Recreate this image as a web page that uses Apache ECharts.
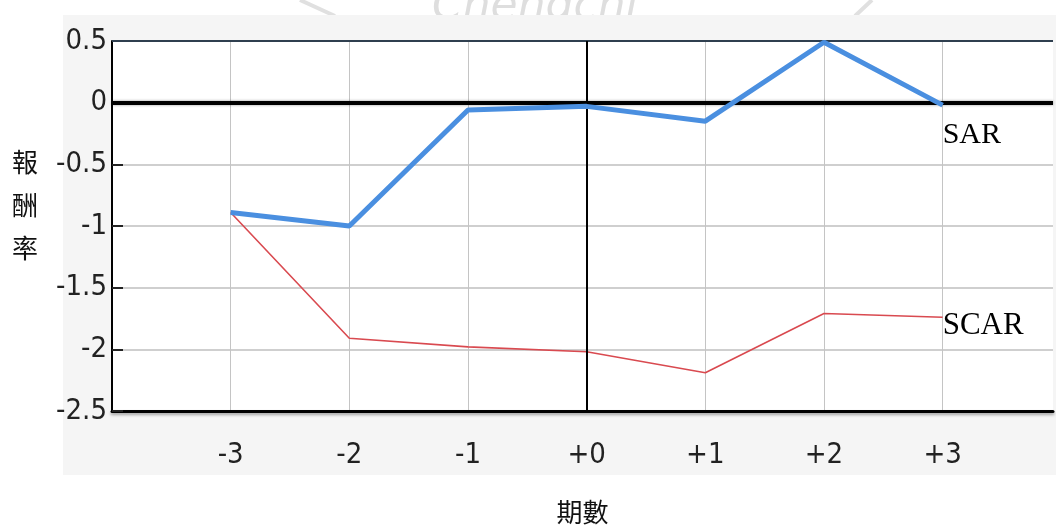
<!DOCTYPE html>
<html>
<head>
<meta charset="utf-8">
<script src="https://cdn.jsdelivr.net/npm/echarts@6/dist/echarts.min.js"></script>
<style>
html,body{margin:0;padding:0;background:#fff;}
#chart{width:1056px;height:531px;}
</style>
</head>
<body>
<div id="chart"></div>
<script>
// ---- data ----
var periods = [-3, -2, -1, 0, 1, 2, 3];
var periodLabels = ['-3', '-2', '-1', '+0', '+1', '+2', '+3'];
var sarValues = [-0.89, -1.00, -0.06, -0.03, -0.15, 0.49, -0.02];
var scarValues = [-0.89, -1.91, -1.98, -2.02, -2.19, -1.71, -1.74];
var seriesNames = ['SAR', 'SCAR'];
var yAxisTitle = '報\n酬\n率';
var xAxisTitle = '期數';
var watermarkText = 'Chengchi';

function pairs(xs, ys) {
  return xs.map(function (x, i) { return [x, ys[i]]; });
}

var chart = echarts.init(document.getElementById('chart'), null, {renderer: 'canvas'});
var numFont = '"DejaVu Sans Condensed", "Liberation Sans Narrow", "Liberation Sans", Arial, sans-serif';
var gridGrey = '#c4c4c4';

var option = {
  backgroundColor: '#ffffff',
  animation: false,
  graphic: [
    {type: 'text', z: -30, left: 432, top: -14,
     style: {text: watermarkText, font: 'italic 44px "DejaVu Sans", sans-serif', fill: '#dedede', letterSpacing: 8}},
    {type: 'line', z: -30, shape: {x1: 300, y1: 0, x2: 335, y2: 16}, style: {stroke: '#e0e0e0', lineWidth: 4}},
    {type: 'line', z: -30, shape: {x1: 872, y1: 0, x2: 855, y2: 16}, style: {stroke: '#e0e0e0', lineWidth: 4}},
    {type: 'rect', z: -10, shape: {x: 63, y: 15, width: 1000, height: 460}, style: {fill: '#f5f5f5'}},
    {type: 'text', z: 10, left: 12, top: 141,
     style: {text: yAxisTitle, font: '26px "Noto Sans CJK TC", sans-serif', fill: '#111', lineHeight: 43}}
  ],
  grid: {
    left: 112, top: 41, right: 0, height: 370,
    show: true, backgroundColor: '#ffffff', borderWidth: 0
  },
  xAxis: {
    type: 'value', min: -4, max: 3.93, interval: 1,
    name: xAxisTitle, nameLocation: 'middle', nameGap: 88,
    nameTextStyle: {fontSize: 26, color: '#111', fontFamily: '"Noto Sans CJK TC", sans-serif'},
    axisLine: {show: true, onZero: false, lineStyle: {color: '#000', width: 3, shadowColor: 'rgba(0,0,0,0.35)', shadowBlur: 3, shadowOffsetY: 2}},
    axisTick: {show: false},
    axisLabel: {
      margin: 30, fontSize: 29, color: '#222', fontFamily: numFont,
      formatter: function (v) {
        var i = periods.indexOf(Math.round(v * 100) / 100);
        return i >= 0 ? periodLabels[i] : '';
      }
    },
    splitLine: {show: true, lineStyle: {
      color: [gridGrey, gridGrey, gridGrey, gridGrey, gridGrey, gridGrey, gridGrey, gridGrey, 'rgba(0,0,0,0)'],
      width: 1}}
  },
  yAxis: {
    type: 'value', min: -2.5, max: 0.5, interval: 0.5,
    axisLine: {show: true, onZero: false, lineStyle: {color: '#000', width: 2}},
    axisTick: {show: true, inside: true, length: 11, lineStyle: {color: '#222', width: 2}},
    axisLabel: {margin: 5, fontSize: 29, color: '#222', fontFamily: numFont},
    splitLine: {show: true, lineStyle: {color: '#cfcfcf', width: 2}}
  },
  series: [
    {
      name: seriesNames[0], type: 'line', data: pairs(periods, sarValues),
      symbol: 'none', z: 5,
      lineStyle: {color: '#4a8fe0', width: 5},
      endLabel: {show: true, formatter: seriesNames[0], color: '#000', distance: 0, offset: [0, 30],
                 fontFamily: '"Liberation Serif", "Times New Roman", serif', fontSize: 30},
      markLine: {
        silent: true, symbol: 'none', label: {show: false}, animation: false,
        data: [
          {yAxis: 0, lineStyle: {color: '#000', width: 4, type: 'solid', shadowColor: 'rgba(0,0,0,0.4)', shadowBlur: 3}},
          {yAxis: 0.5, lineStyle: {color: '#2f3f4f', width: 2, type: 'solid'}},
          {xAxis: 0, lineStyle: {color: '#000', width: 2, type: 'solid'}}
        ]
      }
    },
    {
      name: seriesNames[1], type: 'line', data: pairs(periods, scarValues),
      symbol: 'none', z: 4,
      lineStyle: {color: '#d94a50', width: 1.6},
      endLabel: {show: true, formatter: seriesNames[1], color: '#000', distance: 0, offset: [0, 9],
                 fontFamily: '"Liberation Serif", "Times New Roman", serif', fontSize: 31}
    }
  ]
};
chart.setOption(option);
</script>
</body>
</html>
